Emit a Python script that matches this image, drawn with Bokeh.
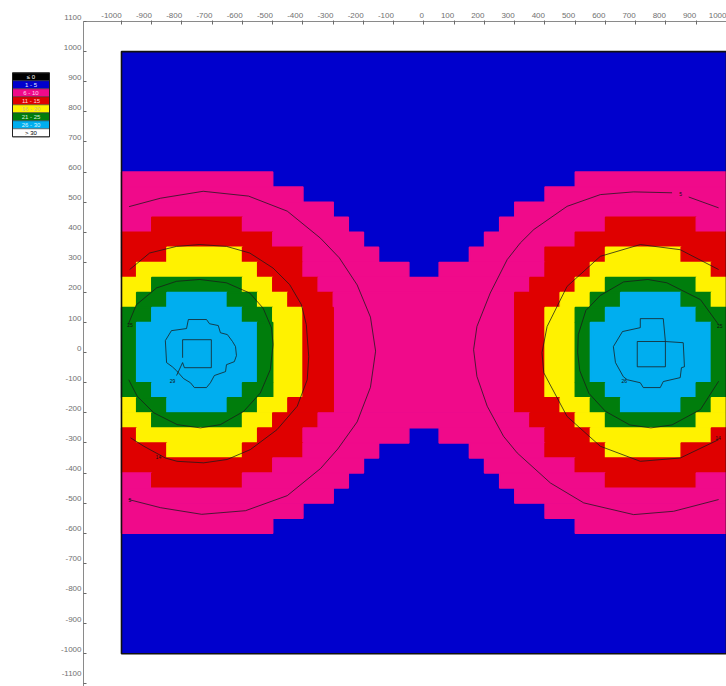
from bokeh.plotting import figure
from bokeh.models import Range1d, FixedTicker, ColumnDataSource
from bokeh.layouts import row
from bokeh.embed import file_html
from bokeh.resources import INLINE
from bokeh.core.properties import value

# ---------------- data ----------------
grid_x0 = -1000          # left edge of the grid
grid_y0 = 1000           # top edge of the grid
cell_size = 50
field_left, field_right, field_top, field_bottom = -1000, 1000, 1000, -1000
background_code = "1"

# band code per cell, one string per row from top (y=1000) to bottom (y=-1000)
# 1: 1-5, 2: 6-10, 3: 11-15, 4: 16-20, 5: 21-25, 6: 26-30
grid_rows = [
    "1111111111111111111111111111111111111111",
    "1111111111111111111111111111111111111111",
    "1111111111111111111111111111111111111111",
    "1111111111111111111111111111111111111111",
    "1111111111111111111111111111111111111111",
    "1111111111111111111111111111111111111111",
    "1111111111111111111111111111111111111111",
    "1111111111111111111111111111111111111111",
    "2222222222111111111111111111112222222222",
    "2222222222221111111111111111222222222222",
    "2222222222222211111111111122222222222222",
    "2233333322222221111111111222222233333322",
    "3333333333222222111111112222223333333333",
    "3334444433332222211111122222333344444333",
    "3444444443332222222112222222333444444443",
    "4455555544333222222222222223334455555544",
    "4556666554433322222222222233344556666554",
    "5566666655443322222222222233445566666655",
    "5666666665443322222222222233445666666665",
    "5666666665443322222222222233445666666665",
    "5666666665443322222222222233445666666665",
    "5666666665443322222222222233445666666665",
    "5566666655443322222222222233445566666655",
    "4556666554433322222222222233344556666554",
    "4455555544333222222222222223334455555544",
    "3444444443332222222112222222333444444443",
    "3334444433332222211111122222333344444333",
    "3333333333222222111111112222223333333333",
    "2233333322222221111111111222222233333322",
    "2222222222222211111111111122222222222222",
    "2222222222221111111111111111222222222222",
    "2222222222111111111111111111112222222222",
    "1111111111111111111111111111111111111111",
    "1111111111111111111111111111111111111111",
    "1111111111111111111111111111111111111111",
    "1111111111111111111111111111111111111111",
    "1111111111111111111111111111111111111111",
    "1111111111111111111111111111111111111111",
    "1111111111111111111111111111111111111111",
    "1111111111111111111111111111111111111111",
]

band_colors = {
    "0": "#000000",
    "1": "#0000CD",
    "2": "#F00A8A",
    "3": "#DF0000",
    "4": "#FFF200",
    "5": "#007D0C",
    "6": "#00AEEF",
    "7": "#FFFFFF",
}

legend_labels = ["≤ 0", "1 - 5", "6 - 10", "11 - 15", "16 - 20", "21 - 25", "26 - 30", "> 30"]
legend_codes = ["0", "1", "2", "3", "4", "5", "6", "7"]
legend_text_colors = ["#FFFFFF", "#E8E8FF", "#FFD8EC", "#FFD8D8", "#C8C090", "#D8F0D8", "#D8F4FF", "#000000"]

x_ticks = [-1000, -900, -800, -700, -600, -500, -400, -300, -200, -100, 0,
           100, 200, 300, 400, 500, 600, 700, 800, 900, 1000]
y_ticks = [-1100, -1000, -900, -800, -700, -600, -500, -400, -300, -200, -100, 0,
           100, 200, 300, 400, 500, 600, 700, 800, 900, 1000, 1100]

# contour lines
c5_left_x = [-975, -871, -730, -580, -452, -342, -280, -221, -177, -160, -177, -221, -285, -342, -452, -590, -735, -871, -976]
c5_left_y = [485, 513, 536, 520, 470, 380, 315, 225, 118, 5, -115, -230, -320, -385, -475, -525, -537, -515, -488]
c14_left_x = [-973, -907, -818, -741, -653, -576, -499, -444, -405, -389, -381, -386, -419, -486, -574, -651, -728, -816, -855, -926, -970]
c14_left_y = [276, 331, 353, 359, 353, 331, 281, 226, 159, 93, -13, -90, -178, -256, -322, -355, -366, -361, -350, -311, -283]
c25_left_x = [-978, -951, -884, -818, -741, -653, -576, -532, -504, -499, -508, -541, -596, -673, -739, -816, -893, -948, -976]
c25_left_y = [93, 159, 215, 237, 243, 232, 198, 148, 82, 27, -56, -134, -195, -239, -250, -239, -200, -145, -90]
irr_left_x = [-855, -835, -785, -779, -719, -709, -680, -673, -650, -633, -623, -620, -627, -653, -656, -693, -706, -719, -759, -772, -795, -818, -832, -851, -855]
irr_left_y = [40, 73, 80, 110, 110, 96, 90, 66, 60, 37, 20, -10, -30, -40, -63, -76, -100, -116, -116, -100, -86, -60, -47, -33, 40]
sq_left_x = [-798, -798, -703, -703, -792, -798, -818]
sq_left_y = [-17, 43, 43, -50, -50, -33, -76]

c5_right_a_x = [164, 175, 219, 275, 318, 363, 473, 583, 693, 820]
c5_right_a_y = [10, 87, 198, 309, 364, 409, 486, 525, 534, 531]
c5_right_b_x = [875, 974]
c5_right_b_y = [517, 481]
c5_right_c_x = [164, 175, 209, 263, 308, 418, 528, 693, 825, 974]
c5_right_c_y = [10, -79, -178, -278, -333, -433, -499, -538, -527, -488]
c14_right_x = [974, 847, 715, 583, 473, 407, 390, 396, 473, 583, 715, 847, 974]
c14_right_y = [276, 342, 359, 320, 220, 87, 0, -67, -212, -311, -361, -350, -289]
c25_right_x = [974, 914, 803, 740, 660, 583, 535, 510, 508, 515, 545, 600, 680, 750, 820, 914, 974]
c25_right_y = [93, 176, 232, 243, 235, 190, 140, 60, 0, -60, -135, -195, -240, -250, -240, -189, -95]
irr_right_x = [626, 656, 715, 715, 791, 798, 857, 861, 851, 847, 791, 781, 725, 715, 672, 659, 633, 626]
irr_right_y = [20, 70, 83, 113, 113, 37, 33, -47, -50, -83, -96, -116, -116, -100, -90, -80, -33, 20]
sq_right_x = [705, 798, 798, 705, 705]
sq_right_y = [37, 37, -47, -47, 37]

contour_label_x = [-972, -972, -878, -831, 978, 972, 662, 848]
contour_label_y = [93, -488, -345, -93, 90, -285, -93, 528]
contour_label_text = ["25", "5", "14", "29", "25", "14", "26", "5"]

# ---------------- main figure ----------------
p = figure(width=675, height=686,
           x_range=Range1d(-1125.6, 1000), y_range=Range1d(-1109, 1100),
           x_axis_location="above", y_axis_location="left",
           output_backend="svg", toolbar_location=None,
           min_border_left=32, min_border_right=0, min_border_top=21, min_border_bottom=0)
p.grid.visible = False
p.outline_line_color = None
p.background_fill_color = "white"
p.border_fill_color = "white"

# field background (the most common band)
p.quad(left=[field_left], right=[field_right], top=[field_top], bottom=[field_bottom],
       fill_color=band_colors[background_code], line_color=None)

# merge equal cells of each row into runs, and identical runs of consecutive rows into blocks
blocks = []
open_blocks = {}
for r, line in enumerate(grid_rows):
    runs = []
    c = 0
    while c < len(line):
        code = line[c]
        start = c
        while c < len(line) and line[c] == code:
            c += 1
        if code != background_code:
            runs.append((start, c, code))
    new_open = {}
    for key in runs:
        if key in open_blocks:
            blk = open_blocks[key]
            blk[3] = r + 1
        else:
            blk = [key[0], key[1], r, r + 1, key[2]]
            blocks.append(blk)
        new_open[key] = blk
    open_blocks = new_open

cells = ColumnDataSource(dict(
    left=[grid_x0 + b[0] * cell_size for b in blocks],
    right=[grid_x0 + b[1] * cell_size for b in blocks],
    top=[grid_y0 - b[2] * cell_size for b in blocks],
    bottom=[grid_y0 - b[3] * cell_size for b in blocks],
    color=[band_colors[b[4]] for b in blocks]))
p.quad(left="left", right="right", top="top", bottom="bottom", source=cells,
       fill_color="color", line_color="color", line_width=1.4)

p.quad(left=[field_left], right=[field_right], top=[field_top], bottom=[field_bottom],
       fill_color=None, line_color="#111111", line_width=1.6)

contour_xs = [c5_left_x, c14_left_x, c25_left_x, irr_left_x, sq_left_x,
              c5_right_a_x, c5_right_b_x, c5_right_c_x, c14_right_x, c25_right_x, irr_right_x, sq_right_x]
contour_ys = [c5_left_y, c14_left_y, c25_left_y, irr_left_y, sq_left_y,
              c5_right_a_y, c5_right_b_y, c5_right_c_y, c14_right_y, c25_right_y, irr_right_y, sq_right_y]
p.multi_line(xs=contour_xs, ys=contour_ys, line_color="#1a1a1a", line_width=0.9, line_alpha=0.85)

p.text(x=contour_label_x, y=contour_label_y, text=contour_label_text,
       text_font=value("Liberation Sans"), text_font_size="5px", text_color="#111111",
       text_align="center", text_baseline="middle")

def pad_label(v):
    # the reference ends each top label at its tick
    s = str(v)
    if v == x_ticks[-1]:
        return s
    n = 2 * sum(ch.isdigit() for ch in s) + (1 if s.startswith("-") else 0)
    return s + "\u00a0" * n

ax = p.xaxis[0]
ax.ticker = FixedTicker(ticks=x_ticks)
ax.major_label_overrides = {v: pad_label(v) for v in x_ticks}
ax.major_tick_in = 3
ax.major_tick_out = 1
ax.minor_tick_in = 0
ax.minor_tick_out = 0
ax.major_label_standoff = 1
ax.axis_line_color = "#8a8a8a"
ax.major_tick_line_color = "#6a6a6a"
ax.major_label_text_font = "Liberation Sans"
ax.major_label_text_font_size = "8px"
ax.major_label_text_color = "#707070"

ay = p.yaxis[0]
ay.ticker = FixedTicker(ticks=y_ticks)
# the reference sits each left label just above its tick
ay.major_label_overrides = {v: str(v) + "\n\u00a0" for v in y_ticks}
ay.major_tick_in = 3
ay.major_tick_out = 0
ay.minor_tick_in = 0
ay.minor_tick_out = 0
ay.major_label_standoff = 2
ay.axis_line_color = "#8a8a8a"
ay.major_tick_line_color = "#6a6a6a"
ay.major_label_text_font = "Liberation Sans"
ay.major_label_text_font_size = "8px"
ay.major_label_text_color = "#707070"
ay.major_label_text_line_height = 1.0

# ---------------- legend figure ----------------
lg = figure(width=51, height=686, x_range=Range1d(0, 51), y_range=Range1d(76.73, -6.42),
            output_backend="svg", toolbar_location=None,
            x_axis_location=None, y_axis_location=None, min_border=0)
lg.grid.visible = False
lg.outline_line_color = None
lg.background_fill_color = "white"
lg.border_fill_color = "white"

n_items = len(legend_labels)
leg = ColumnDataSource(dict(
    left=[12] * n_items, right=[49] * n_items,
    top=list(range(n_items)), bottom=[i + 1 for i in range(n_items)],
    ymid=[i + 0.5 for i in range(n_items)], xmid=[30.5] * n_items,
    color=[band_colors[c] for c in legend_codes], label=legend_labels, tcolor=legend_text_colors))
lg.quad(left="left", right="right", top="top", bottom="bottom", source=leg,
        fill_color="color", line_color="#333333", line_width=0.5)
lg.quad(left=[12], right=[49], top=[0], bottom=[n_items], fill_color=None,
        line_color="#222222", line_width=1)
lg.text(x="xmid", y="ymid", text="label", source=leg, text_color="tcolor",
        text_font=value("Liberation Sans"), text_font_size="6px",
        text_align="center", text_baseline="middle")

layout = row(lg, p)
open("out.html", "w").write(file_html(layout, INLINE))
